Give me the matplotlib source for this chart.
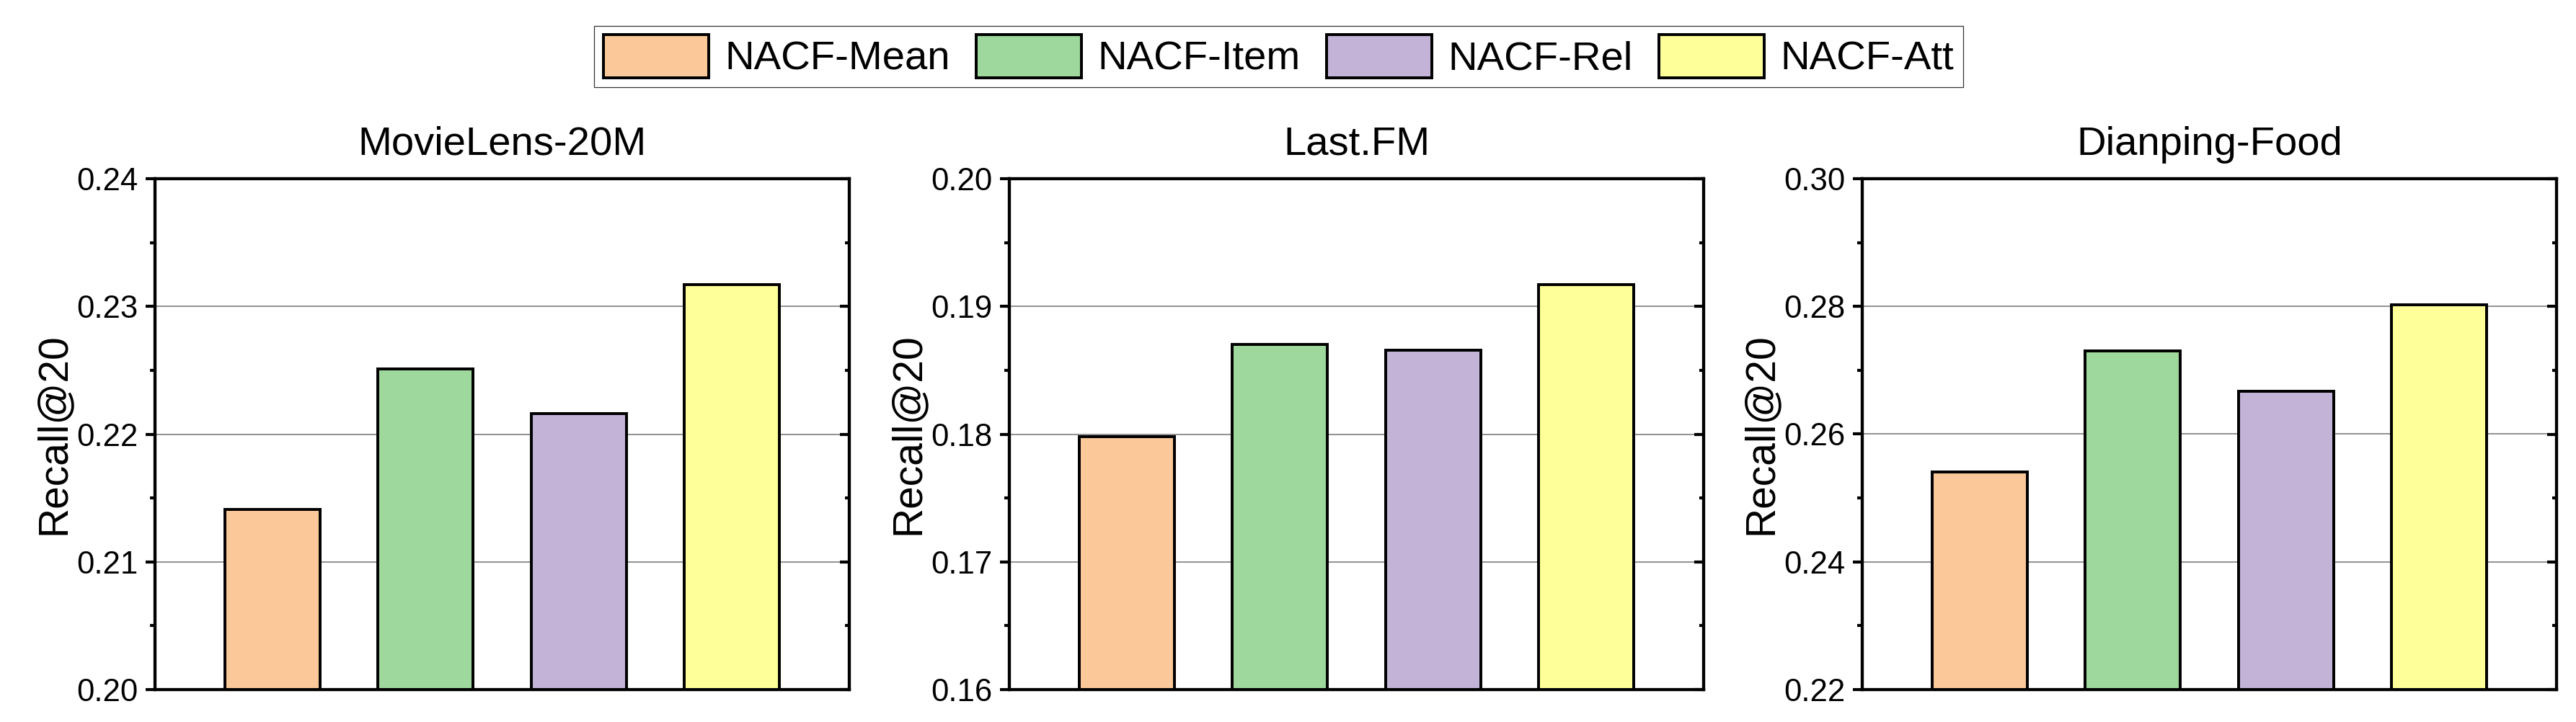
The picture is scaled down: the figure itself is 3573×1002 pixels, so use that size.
import matplotlib
matplotlib.use("Agg")
import matplotlib.pyplot as plt
from matplotlib.ticker import MultipleLocator, FormatStrFormatter
from matplotlib import font_manager

plt.rcParams['font.family'] = ['Liberation Sans', 'DejaVu Sans']

# datos de cada dataset
metodos = ["NACF-Mean", "NACF-Item", "NACF-Rel", "NACF-Att"]
colores = ["#FBC999", "#9ED89C", "#C3B3D6", "#FFFF99"]

datasets = ["MovieLens-20M", "Last.FM", "Dianping-Food"]
movielens = [0.2141, 0.2251, 0.2216, 0.2317]
lastfm = [0.1798, 0.1870, 0.1866, 0.1917]
dianping = [0.2541, 0.2730, 0.2667, 0.2803]
valores = [movielens, lastfm, dianping]

limites = [(0.20, 0.24), (0.16, 0.20), (0.22, 0.30)]
pasos = [0.01, 0.01, 0.02]

# fuente angosta para la leyenda si existe
try:
    font_manager.findfont("Liberation Sans Narrow", fallback_to_default=False)
    fuente_leyenda = {"family": ["Liberation Sans Narrow", "DejaVu Sans"], "size": 16.5}
except Exception:
    fuente_leyenda = {"family": ["Liberation Sans", "DejaVu Sans"], "size": 13.5}

fig = plt.figure(figsize=(3573 / 300, 1002 / 300), dpi=300)

# posiciones de los ejes (fraccion de la figura)
lefts = [215 / 3573, 1400 / 3573, 2583 / 3573]
ancho = 963 / 3573
abajo = 1 - 957 / 1002
alto = 709 / 1002

barras = []
for i in range(3):
    ax = fig.add_axes([lefts[i], abajo, ancho, alto])
    x = range(len(metodos))
    bs = ax.bar(x, valores[i], width=0.62, color=colores,
                edgecolor="black", linewidth=0.95, zorder=3)
    barras = bs
    ax.set_xlim(-0.765, 3.765)
    ax.set_ylim(*limites[i])
    ax.yaxis.set_major_locator(MultipleLocator(pasos[i]))
    ax.yaxis.set_minor_locator(MultipleLocator(pasos[i] / 2))
    ax.yaxis.set_major_formatter(FormatStrFormatter("%.2f"))
    ax.set_xticks([])
    ax.grid(axis="y", which="major", color="#8c8c8c", linewidth=0.45, zorder=0)
    ax.set_axisbelow(True)
    for s in ax.spines.values():
        s.set_linewidth(1.0)
    ax.tick_params(axis="y", which="major", direction="out", length=3.1,
                   width=1.0, labelsize=10.5, pad=2.6)
    ax.tick_params(axis="y", which="minor", direction="out", length=1.7, width=1.0)
    ax.set_title(datasets[i], fontsize=13.5, pad=8)
    ax.set_ylabel("Recall@20", fontsize=13.7)
    ax.yaxis.set_label_coords(-0.118, 0.5)

    # ticks hacia adentro en el lado derecho
    ax2 = ax.twinx()
    ax2.set_ylim(*limites[i])
    ax2.yaxis.set_major_locator(MultipleLocator(pasos[i]))
    ax2.yaxis.set_minor_locator(MultipleLocator(pasos[i] / 2))
    ax2.tick_params(axis="y", which="major", direction="in", length=3.1,
                    width=1.0, labelright=False)
    ax2.tick_params(axis="y", which="minor", direction="in", length=1.5, width=1.0)
    for s in ax2.spines.values():
        s.set_linewidth(1.0)

leg = fig.legend(barras, metodos, loc="center", bbox_to_anchor=(0.4964, 0.9217),
                 ncol=4, prop=fuente_leyenda, frameon=True, fancybox=False,
                 edgecolor="black", handlelength=2.6 * 13.5 / fuente_leyenda["size"],
                 handleheight=1.25 * 13.5 / fuente_leyenda["size"],
                 handletextpad=0.4 * 13.5 / fuente_leyenda["size"],
                 columnspacing=0.64 * 13.5 / fuente_leyenda["size"],
                 borderpad=0.22 * 13.5 / fuente_leyenda["size"],
                 borderaxespad=0)
leg.get_frame().set_linewidth(0.3)

fig.savefig("out.png", dpi=300)
